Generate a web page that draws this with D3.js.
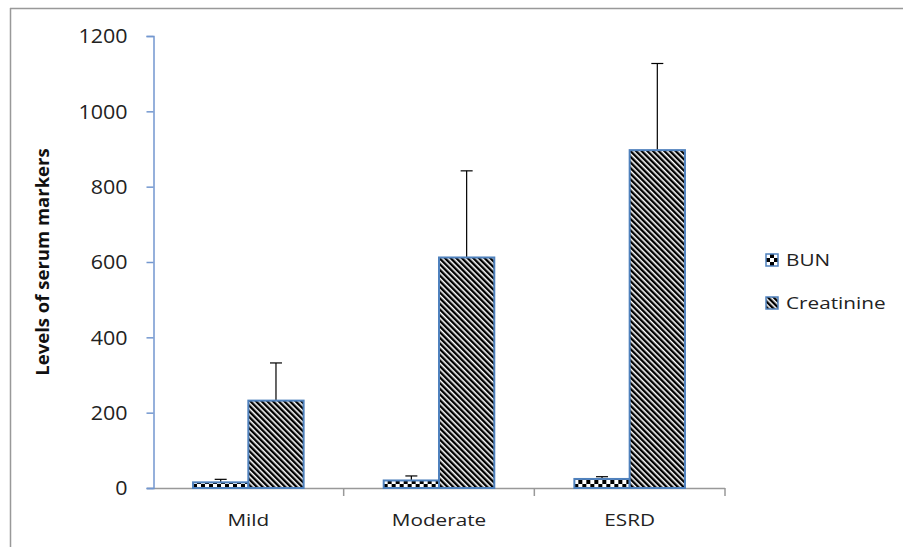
<!DOCTYPE html>
<html><head><meta charset="utf-8">
<script src="https://cdn.jsdelivr.net/npm/d3@7"></script>
<style>body{margin:0;background:#fff}svg{display:block}text{font-family:"Open Sans","Noto Sans",sans-serif}</style>
</head><body>
<svg id="c" width="903" height="547"></svg>
<script>
const categories = ["Mild", "Moderate", "ESRD"];
const seriesNames = ["BUN", "Creatinine"];
const bunValues = [15, 20, 24];
const bunErrors = [8, 12, 6];
const creatValues = [232, 612, 897];
const creatErrors = [100, 230, 230];
const yTicks = [0, 200, 400, 600, 800, 1000, 1200];

const svg = d3.select("#c");
const defs = svg.append("defs");
// checkerboard
const pc = defs.append("pattern").attr("id","chk").attr("patternUnits","userSpaceOnUse")
  .attr("width",8).attr("height",8).attr("x",0).attr("y",0);
pc.append("rect").attr("width",8).attr("height",8).attr("fill","#fff");
pc.append("rect").attr("x",0).attr("y",4).attr("width",4).attr("height",4).attr("fill","#000");
pc.append("rect").attr("x",4).attr("y",0).attr("width",4).attr("height",4).attr("fill","#000");
// diagonal stripes
const ps = defs.append("pattern").attr("id","str").attr("patternUnits","userSpaceOnUse")
  .attr("width",4).attr("height",4).attr("patternTransform","rotate(-45)");
ps.append("rect").attr("width",4).attr("height",4).attr("fill","#fff");
ps.append("rect").attr("x",0).attr("y",0).attr("width",2.4).attr("height",4).attr("fill","#000");

// outer frame
svg.append("line").attr("x1",10).attr("x2",903).attr("y1",8.5).attr("y2",8.5).attr("stroke","#999").attr("stroke-width",1.5);
svg.append("line").attr("x1",10.5).attr("x2",10.5).attr("y1",8).attr("y2",547).attr("stroke","#999").attr("stroke-width",1.5);

const x0 = d3.scaleBand().domain(categories).range([153, 725]).paddingInner(0).paddingOuter(0);
const inner = 0.42;
const x1 = d3.scaleBand().domain(seriesNames).range([x0.bandwidth()*inner/2, x0.bandwidth()*(1-inner/2)]);
const y = d3.scaleLinear().domain([0, 1200]).range([488, 36]);

// x axis
svg.append("line").attr("x1",147).attr("x2",725).attr("y1",488.5).attr("y2",488.5).attr("stroke","#999").attr("stroke-width",1.5);
const bounds = [153, 153 + x0.bandwidth(), 153 + 2*x0.bandwidth(), 725];
bounds.slice(1).forEach(b => svg.append("line").attr("x1",b).attr("x2",b).attr("y1",488).attr("y2",496).attr("stroke","#999").attr("stroke-width",1.5));
svg.selectAll(".xl").data(categories).enter().append("text")
  .attr("transform", d => `translate(${x0(d) + x0.bandwidth()/2},526) scale(1.22,1)`).attr("text-anchor","middle")
  .attr("font-size",17).attr("fill","#222").text(d => d);

// y axis
const yAxis = d3.axisLeft(y).tickValues(yTicks).tickSize(7).tickFormat(d3.format("d"));
const ga = svg.append("g").attr("transform","translate(153.5,0)").call(yAxis);
ga.select(".domain").attr("stroke","#7397cf").attr("stroke-width",1.5);
ga.selectAll(".tick line").attr("stroke","#7397cf").attr("stroke-width",1.5);
ga.selectAll(".tick text").attr("font-size",19.5).attr("fill","#222").attr("x",0).attr("dy","0.35em")
  .attr("transform","translate(-26,0) scale(1.1,1)")
  .style("font-family",'"Open Sans","Noto Sans",sans-serif');

svg.append("text").attr("transform","translate(49,262) rotate(-90)").attr("text-anchor","middle")
  .attr("font-size",18.5).attr("font-weight","bold").attr("fill","#111").text("Levels of serum markers");

const data = categories.map((c,i) => ({c, vals:[
  {s:"BUN", v:bunValues[i], e:bunErrors[i], p:"url(#chk)"},
  {s:"Creatinine", v:creatValues[i], e:creatErrors[i], p:"url(#str)"}]}));

const g = svg.selectAll(".grp").data(data).enter().append("g").attr("transform", d => `translate(${x0(d.c)},0)`);
// error bars
g.selectAll(".err").data(d => d.vals).enter().append("line")
  .attr("x1", d => x1(d.s) + x1.bandwidth()/2).attr("x2", d => x1(d.s) + x1.bandwidth()/2)
  .attr("y1", d => y(d.v)).attr("y2", d => y(d.v + d.e)).attr("stroke","#000").attr("stroke-width",1.2);
g.selectAll(".cap").data(d => d.vals).enter().append("line")
  .attr("x1", d => x1(d.s) + x1.bandwidth()/2 - 6).attr("x2", d => x1(d.s) + x1.bandwidth()/2 + 6)
  .attr("y1", d => y(d.v + d.e)).attr("y2", d => y(d.v + d.e)).attr("stroke","#000").attr("stroke-width",1.2);
g.selectAll(".bar").data(d => d.vals).enter().append("rect")
  .attr("x", d => x1(d.s)).attr("width", x1.bandwidth())
  .attr("y", d => y(d.v)).attr("height", d => y(0) - y(d.v))
  .attr("fill", d => d.p).attr("stroke","#4f81bd").attr("stroke-width",2);

// legend
const leg = svg.selectAll(".leg").data([{s:"BUN",p:"url(#chk)"},{s:"Creatinine",p:"url(#str)"}]).enter().append("g")
  .attr("transform",(d,i)=>`translate(766,${254 + i*43})`);
leg.append("rect").attr("width",12).attr("height",12).attr("fill",d=>d.p).attr("stroke","#4f81bd").attr("stroke-width",1.5);
leg.append("text").attr("transform","translate(20,12) scale(1.22,1)").attr("font-size",17).attr("fill","#222").text(d=>d.s);
</script>
</body></html>
